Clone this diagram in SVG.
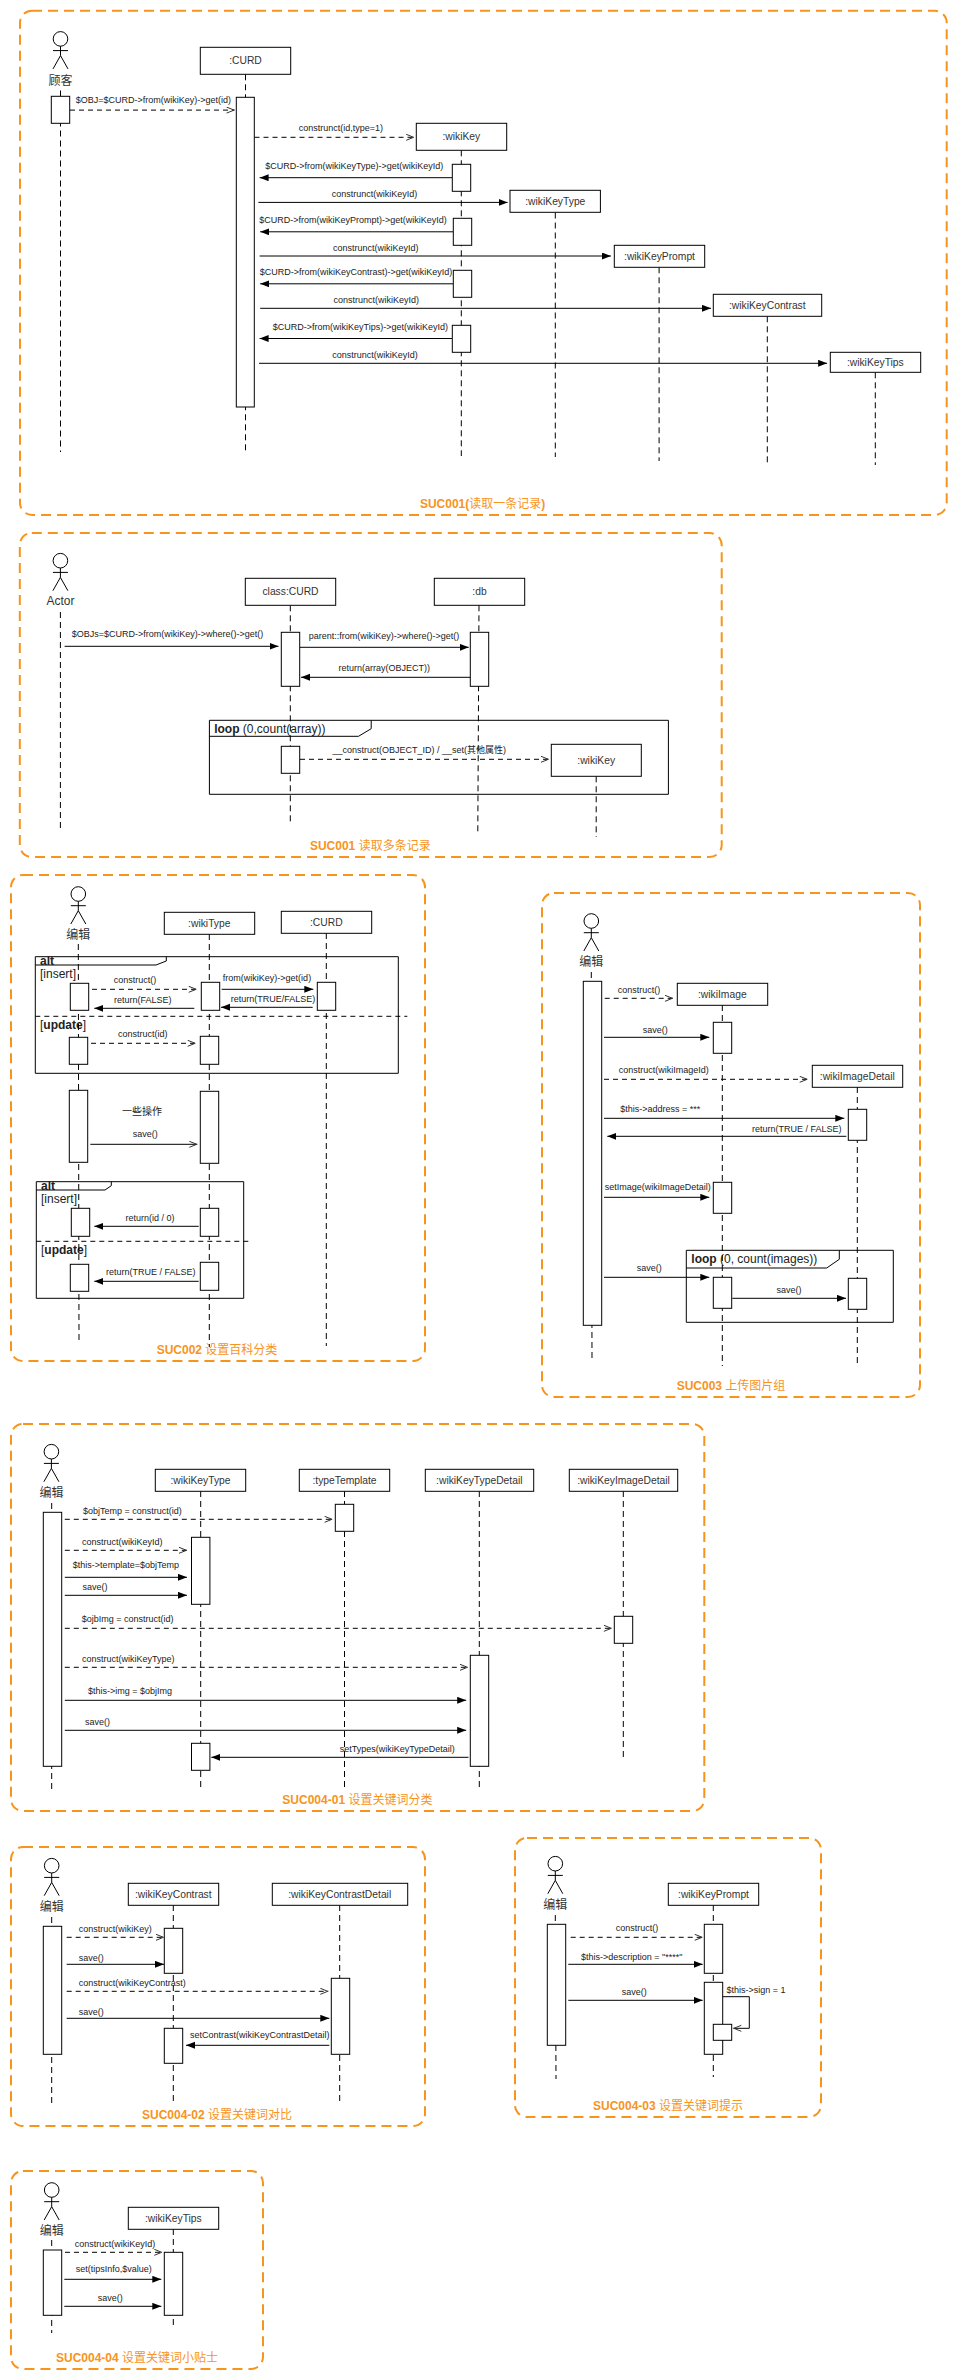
<svg xmlns="http://www.w3.org/2000/svg" xmlns:xlink="http://www.w3.org/1999/xlink" width="958" height="2380" viewBox="0 0 958 2380">
<style>
text{font-family:"Liberation Sans","Noto Sans CJK SC",sans-serif;fill:#333}
.f{fill:none;stroke:#F7941D;stroke-width:2;stroke-dasharray:10 6}
.t{font-size:12px;font-weight:bold;fill:#F7941D;text-anchor:middle}
.t tspan{font-weight:normal}
.b{fill:#fff;stroke:#000;stroke-width:1}
.ll{stroke:#000;stroke-width:1;stroke-dasharray:6 4;fill:none}
.bl{font-size:10.3px;text-anchor:middle}
.al{font-size:12px;text-anchor:middle}
.m{font-size:9px;text-anchor:middle;fill:#222}
.g{font-size:12px;fill:#222}
.g tspan.k{font-weight:bold}
.fr{fill:none;stroke:#000;stroke-width:1}
.sep{stroke:#000;stroke-width:1;stroke-dasharray:5 4;fill:none}
.a{fill:none;stroke:#000;stroke-width:1;marker-end:url(#fa)}
.d{fill:none;stroke:#000;stroke-width:1;stroke-dasharray:5 4;marker-end:url(#oa)}
.o{fill:none;stroke:#000;stroke-width:1;marker-end:url(#oa)}
.act{fill:none;stroke:#000;stroke-width:1}
</style>
<defs>
<marker id="fa" markerUnits="userSpaceOnUse" markerWidth="10" markerHeight="8" refX="9" refY="3.5" orient="auto"><path d="M0 0L9 3.5L0 7z" fill="#000"/></marker>
<marker id="oa" markerUnits="userSpaceOnUse" markerWidth="10" markerHeight="8" refX="8.5" refY="3.5" orient="auto"><path d="M.5 .5L8 3.5L.5 6.5" fill="none" stroke="#333" stroke-width="1"/></marker>
<g id="actor" class="act"><circle cx="0" cy="0" r="7.3"/><path d="M0 7.3V16.7M-7.5 11.7H7.5M-7.5 30L0 16.7L7.5 30"/></g>
</defs>
<rect width="958" height="2380" fill="#fff"/>

<g id="frames">
<g id="frame-suc001"><rect class="f" x="20" y="10.8" width="926.7" height="504.2" rx="12"/><text class="t" x="482.6" y="508">SUC001(<tspan>读取一条记录</tspan>)</text></g>
<g id="frame-suc001b"><rect class="f" x="19.8" y="533" width="701.9" height="324" rx="12"/><text class="t" x="370.3" y="850">SUC001 <tspan>读取多条记录</tspan></text></g>
<g id="frame-suc002"><rect class="f" x="11" y="875" width="414" height="486" rx="12"/><text class="t" x="217" y="1354">SUC002 <tspan>设置百科分类</tspan></text></g>
<g id="frame-suc003"><rect class="f" x="542" y="893" width="378" height="504" rx="12"/><text class="t" x="731" y="1390">SUC003 <tspan>上传图片组</tspan></text></g>
<g id="frame-suc00401"><rect class="f" x="11" y="1424" width="693.3" height="387" rx="12"/><text class="t" x="357.4" y="1804">SUC004-01 <tspan>设置关键词分类</tspan></text></g>
<g id="frame-suc00402"><rect class="f" x="11" y="1847" width="414" height="279" rx="12"/><text class="t" x="217" y="2119">SUC004-02 <tspan>设置关键词对比</tspan></text></g>
<g id="frame-suc00403"><rect class="f" x="515" y="1838" width="306" height="279" rx="12"/><text class="t" x="668" y="2110">SUC004-03 <tspan>设置关键词提示</tspan></text></g>
<g id="frame-suc00404"><rect class="f" x="11" y="2171" width="252" height="198" rx="12"/><text class="t" x="137" y="2362">SUC004-04 <tspan>设置关键词小贴士</tspan></text></g>
</g>

<!-- SUC001 -->
<g id="a1-actor"><use href="#actor" x="60.5" y="38.9"/><text class="al" x="60.5" y="84.5">顾客</text><path class="ll" d="M60.5 90.5V452"/><rect class="b" x="51.3" y="96.3" width="18.4" height="27"/></g>
<g id="a1-curd"><path class="ll" d="M245.5 74.3V452"/><rect class="b" x="200.3" y="47.3" width="90.4" height="27"/><text class="bl" x="245.5" y="64">:CURD</text><rect class="b" x="236.3" y="97.3" width="18" height="309.7"/></g>
<g id="a1-wikikey"><path class="ll" d="M461.3 150.3V456"/><rect class="b" x="416.3" y="123.3" width="90.4" height="27"/><text class="bl" x="461.3" y="140">:wikiKey</text><rect class="b" x="452.3" y="164.3" width="18.4" height="27"/><rect class="b" x="453.3" y="218.3" width="18.4" height="27"/><rect class="b" x="453.3" y="270.3" width="18.4" height="27"/><rect class="b" x="452.3" y="325.3" width="18.4" height="27"/></g>
<g id="a1-type"><path class="ll" d="M555.3 212.5V457"/><rect class="b" x="510" y="190.3" width="90.4" height="22"/><text class="bl" x="555.3" y="205">:wikiKeyType</text></g>
<g id="a1-prompt"><path class="ll" d="M659.1 267.3V461"/><rect class="b" x="614.3" y="245.3" width="90.4" height="22"/><text class="bl" x="659.5" y="260">:wikiKeyPrompt</text></g>
<g id="a1-contrast"><path class="ll" d="M767.3 316.3V465"/><rect class="b" x="713.3" y="294.3" width="108.4" height="22"/><text class="bl" x="767.3" y="309">:wikiKeyContrast</text></g>
<g id="a1-tips"><path class="ll" d="M875.3 372.3V465"/><rect class="b" x="830.3" y="352.3" width="90.4" height="20"/><text class="bl" x="875.3" y="366">:wikiKeyTips</text></g>

<!-- SUC001 b -->
<g id="b-actor"><use href="#actor" x="60.4" y="560.7"/><text class="al" x="60.4" y="605">Actor</text><path class="ll" d="M60.4 612V830"/></g>
<g id="b-loop"><path class="fr" d="M209.4 720.3H668.4V794.3H209.4zM209.4 736.3H358.5L371.2 728.7V720.3"/><text class="g" x="214.2" y="733"><tspan class="k">loop</tspan> (0,count(array))</text></g>
<g id="b-curd"><path class="ll" d="M290.3 605.3V823"/><rect class="b" x="245.3" y="578.3" width="90.4" height="27"/><text class="bl" x="290.5" y="595">class:CURD</text><rect class="b" x="281.3" y="632.3" width="18.4" height="54"/><rect class="b" x="281.3" y="746.3" width="18.4" height="27"/></g>
<g id="b-db"><path class="ll" d="M479 605.3L477.8 832"/><rect class="b" x="434.3" y="578.3" width="90.4" height="27"/><text class="bl" x="479.5" y="595">:db</text><rect class="b" x="470.3" y="632.3" width="18.4" height="54"/></g>
<g id="b-wikikey"><path class="ll" d="M596.2 776.3V837"/><rect class="b" x="551.3" y="744.3" width="90" height="32"/><text class="bl" x="596.2" y="764">:wikiKey</text></g>

<!-- SUC002 -->
<g id="c-alt1"><path class="fr" d="M35.3 956.7H398.3V1073.3H35.3zM35.3 965H156L166.3 961V956.7"/><text class="g" x="40" y="965"><tspan class="k">alt</tspan></text><text class="g" x="40" y="978">[insert]</text><path class="sep" d="M35.3 1016.3H407.3"/><text class="g" x="40" y="1029">[<tspan class="k">update</tspan>]</text></g>
<g id="c-alt2"><path class="fr" d="M36.3 1181.7H243.7V1298.3H36.3zM36.3 1190H105L111.3 1185.7V1181.7"/><text class="g" x="41" y="1190"><tspan class="k">alt</tspan></text><text class="g" x="41" y="1203">[insert]</text><path class="sep" d="M36.3 1241.3H248.3"/><text class="g" x="41" y="1254">[<tspan class="k">update</tspan>]</text></g>
<g id="c-actor"><use href="#actor" x="78.3" y="894"/><text class="al" x="78.3" y="939">编辑</text><path class="ll" d="M78.3 944L79 1341"/><rect class="b" x="70.3" y="983.3" width="18.4" height="27"/><rect class="b" x="69.3" y="1037.3" width="18.4" height="27"/><rect class="b" x="69.3" y="1090.3" width="18.4" height="72"/><rect class="b" x="71.3" y="1208.3" width="18.4" height="28"/><rect class="b" x="70.3" y="1264.3" width="18.4" height="27"/></g>
<g id="c-type"><path class="ll" d="M209.3 934V1347"/><rect class="b" x="164.3" y="912.3" width="90.4" height="22"/><text class="bl" x="209.3" y="927">:wikiType</text><rect class="b" x="201.3" y="982.3" width="18.4" height="28"/><rect class="b" x="200.3" y="1036.3" width="18.4" height="28"/><rect class="b" x="200.3" y="1091.3" width="18.4" height="72"/><rect class="b" x="200.3" y="1208.3" width="18.4" height="28"/><rect class="b" x="200.3" y="1262.3" width="18.4" height="28"/></g>
<g id="c-curd"><path class="ll" d="M326.3 933V1346"/><rect class="b" x="281.3" y="911.3" width="90.4" height="22"/><text class="bl" x="326.3" y="926">:CURD</text><rect class="b" x="317.3" y="982.3" width="18.4" height="28"/></g>

<!-- SUC003 -->
<g id="d-loop"><path class="fr" d="M686.3 1250.3H893.3V1322.3H686.3zM686.3 1268H826.7L839.3 1259.3V1250.3"/><text class="g" x="691.3" y="1263"><tspan class="k">loop</tspan> (0, count(images))</text></g>
<g id="d-actor"><use href="#actor" x="591.3" y="921"/><text class="al" x="591.3" y="966">编辑</text><path class="ll" d="M591.3 972L592 1360"/><rect class="b" x="583.3" y="981.3" width="18.4" height="344"/></g>
<g id="d-image"><path class="ll" d="M722.3 1005V1366"/><rect class="b" x="677.3" y="983.3" width="90.4" height="22"/><text class="bl" x="722.3" y="998">:wikiImage</text><rect class="b" x="713.3" y="1022.3" width="18.4" height="31"/><rect class="b" x="713.3" y="1182.3" width="18.4" height="31"/><rect class="b" x="713.3" y="1277.3" width="18.4" height="31"/></g>
<g id="d-detail"><path class="ll" d="M857.3 1087V1364"/><rect class="b" x="812.3" y="1065.3" width="90.4" height="22"/><text class="bl" x="857.3" y="1080">:wikiImageDetail</text><rect class="b" x="848.3" y="1109.3" width="18.4" height="31"/><rect class="b" x="848.3" y="1278.3" width="18.4" height="31"/></g>

<!-- SUC004-01 -->
<g id="e-actor"><use href="#actor" x="51.4" y="1451.7"/><text class="al" x="51.4" y="1497">编辑</text><path class="ll" d="M51.7 1503V1793"/><rect class="b" x="43.3" y="1512.3" width="18.4" height="254"/></g>
<g id="e-type"><path class="ll" d="M200.7 1491V1789"/><rect class="b" x="155.3" y="1469.3" width="90.4" height="22"/><text class="bl" x="200.5" y="1484">:wikiKeyType</text><rect class="b" x="191.5" y="1537.3" width="18.4" height="67"/><rect class="b" x="191.5" y="1743.3" width="18.4" height="27"/></g>
<g id="e-template"><path class="ll" d="M344.5 1491V1789"/><rect class="b" x="299.3" y="1469.3" width="90.4" height="22"/><text class="bl" x="344.5" y="1484">:typeTemplate</text><rect class="b" x="335.3" y="1504.3" width="18.4" height="27"/></g>
<g id="e-detail"><path class="ll" d="M479.3 1491V1789"/><rect class="b" x="425.3" y="1469.3" width="108.4" height="22"/><text class="bl" x="479.3" y="1484">:wikiKeyTypeDetail</text><rect class="b" x="470.3" y="1655.3" width="18.4" height="111"/></g>
<g id="e-image"><path class="ll" d="M623.3 1491V1760"/><rect class="b" x="569.3" y="1469.3" width="108.4" height="22"/><text class="bl" x="623.5" y="1484">:wikiKeyImageDetail</text><rect class="b" x="614.3" y="1616.3" width="18.4" height="27"/></g>

<!-- SUC004-02 -->
<g id="f-actor"><use href="#actor" x="51.7" y="1865.7"/><text class="al" x="51.7" y="1911">编辑</text><path class="ll" d="M51.7 1917V2105"/><rect class="b" x="43.3" y="1926.3" width="18.4" height="128"/></g>
<g id="f-contrast"><path class="ll" d="M173.3 1905V2102"/><rect class="b" x="128.3" y="1883.3" width="90.4" height="22"/><text class="bl" x="173.3" y="1898">:wikiKeyContrast</text><rect class="b" x="164.3" y="1928.3" width="18.4" height="45"/><rect class="b" x="164.3" y="2028.3" width="18.4" height="35"/></g>
<g id="f-detail"><path class="ll" d="M339.7 1905V2102"/><rect class="b" x="272.3" y="1883.3" width="135.4" height="22"/><text class="bl" x="339.7" y="1898">:wikiKeyContrastDetail</text><rect class="b" x="331.3" y="1978.3" width="18.4" height="76"/></g>

<!-- SUC004-03 -->
<g id="g-actor"><use href="#actor" x="555.3" y="1863.7"/><text class="al" x="555.3" y="1909">编辑</text><path class="ll" d="M555.3 1915L556 2079"/><rect class="b" x="547.3" y="1924.3" width="18.4" height="121"/></g>
<g id="g-prompt"><path class="ll" d="M713.3 1905V2077"/><rect class="b" x="668.3" y="1883.3" width="90.4" height="22"/><text class="bl" x="713.5" y="1898">:wikiKeyPrompt</text><rect class="b" x="704.3" y="1924.3" width="18.4" height="49"/><rect class="b" x="704.3" y="1982.3" width="18.4" height="72"/><rect class="b" x="713.3" y="2024.3" width="18.4" height="16"/></g>

<!-- SUC004-04 -->
<g id="h-actor"><use href="#actor" x="51.7" y="2190"/><text class="al" x="51.7" y="2235">编辑</text><path class="ll" d="M51.7 2240V2333"/><rect class="b" x="43.3" y="2250" width="18.4" height="65.3"/></g>
<g id="h-tips"><path class="ll" d="M173.3 2229V2329"/><rect class="b" x="128.3" y="2207.3" width="90.4" height="22"/><text class="bl" x="173.3" y="2222">:wikiKeyTips</text><rect class="b" x="164.3" y="2252.3" width="18.4" height="63"/></g>

<g id="connectors">
<path class="d" d="M70 110.1H234.6"/><text class="m" x="153.3" y="103">$OBJ=$CURD->from(wikiKey)->get(id)</text>
<path class="d" d="M254.5 137.3H414.2"/><text class="m" x="340.9" y="131">construnct(id,type=1)</text>
<path class="a" d="M452 177.7H259.6"/><text class="m" x="354.3" y="169">$CURD->from(wikiKeyType)->get(wikiKeyId)</text>
<path class="a" d="M258.4 202.4H507.6"/><text class="m" x="374.5" y="197">construnct(wikiKeyId)</text>
<path class="a" d="M453 231.8H260.2"/><text class="m" x="353" y="223">$CURD->from(wikiKeyPrompt)->get(wikiKeyId)</text>
<path class="a" d="M259.6 256H610.9"/><text class="m" x="375.7" y="251">construnct(wikiKeyId)</text>
<path class="a" d="M453 283.8H260.2"/><text class="m" x="356.1" y="275">$CURD->from(wikiKeyContrast)->get(wikiKeyId)</text>
<path class="a" d="M260.2 308.3H711"/><text class="m" x="376.3" y="303">construnct(wikiKeyId)</text>
<path class="a" d="M452 338.5H259.6"/><text class="m" x="360.4" y="330">$CURD->from(wikiKeyTips)->get(wikiKeyId)</text>
<path class="a" d="M259 363.3H827.1"/><text class="m" x="375" y="358">construnct(wikiKeyId)</text>

<path class="a" d="M64.6 646.3H278.5"/><text class="m" x="167.5" y="637">$OBJs=$CURD->from(wikiKey)->where()->get()</text>
<path class="a" d="M300 647.3H468.7"/><text class="m" x="384" y="639">parent::from(wikiKey)->where()->get()</text>
<path class="a" d="M470.3 677.3H301"/><text class="m" x="384.3" y="671">return(array(OBJECT))</text>
<path class="d" d="M300 759.3H549"/><text class="m" x="419.3" y="753">__construct(OBJECT_ID) / __set(其他属性)</text>

<path class="d" d="M92 989.3H196.7"/><text class="m" x="135" y="983">construct()</text>
<path class="a" d="M194.3 1008.3H94.3"/><text class="m" x="142.7" y="1003">return(FALSE)</text>
<path class="a" d="M221.7 989.3H313.3"/><text class="m" x="267" y="981">from(wikiKey)->get(id)</text>
<path class="a" d="M312.7 1007.3H221"/><text class="m" x="273" y="1002">return(TRUE/FALSE)</text>
<path class="d" d="M91 1043.3H195.7"/><text class="m" x="142.7" y="1037">construct(id)</text>
<text class="m" x="142" y="1115" style="font-size:10px">一些操作</text>
<path class="o" d="M90.3 1144.3H197.3"/><text class="m" x="145.3" y="1137">save()</text>
<path class="a" d="M198.7 1226.3H94.3"/><text class="m" x="150" y="1221">return(id / 0)</text>
<path class="a" d="M198.7 1281.3H94.3"/><text class="m" x="150.7" y="1275">return(TRUE / FALSE)</text>

<path class="d" d="M604.7 998.3H673"/><text class="m" x="639" y="993">construct()</text>
<path class="a" d="M604 1037.3H709.3"/><text class="m" x="655.3" y="1033">save()</text>
<path class="d" d="M604 1079.3H807.7"/><text class="m" x="663.7" y="1073">construct(wikiImageId)</text>
<path class="a" d="M604 1118.3H844.3"/><text class="m" x="660.3" y="1112">$this->address = ***</text>
<path class="a" d="M846.3 1136.3H607.3"/><text class="m" x="796.7" y="1132">return(TRUE / FALSE)</text>
<path class="a" d="M604 1197.3H709.3"/><text class="m" x="657.7" y="1190">setImage(wikiImageDetail)</text>
<path class="a" d="M604 1277.3H709.3"/><text class="m" x="649.3" y="1271">save()</text>
<path class="a" d="M732.3 1298.3H846"/><text class="m" x="789" y="1293">save()</text>

<path class="d" d="M64.8 1519.3H332.6"/><text class="m" x="132.3" y="1514">$objTemp = construct(id)</text>
<path class="d" d="M64.8 1550.3H187"/><text class="m" x="122.2" y="1545">construct(wikiKeyId)</text>
<path class="a" d="M64.8 1577.3H187"/><text class="m" x="125.9" y="1568">$this->template=$objTemp</text>
<path class="a" d="M64.8 1595.3H187"/><text class="m" x="95.1" y="1590">save()</text>
<path class="d" d="M64.8 1628.3H611.9"/><text class="m" x="127.7" y="1622">$ojbImg = construct(id)</text>
<path class="d" d="M64.8 1667.3H468"/><text class="m" x="128.2" y="1662">construct(wikiKeyType)</text>
<path class="a" d="M64.8 1700.3H466.2"/><text class="m" x="130" y="1694">$this->img = $objImg</text>
<path class="a" d="M64.8 1730.3H466.2"/><text class="m" x="97.4" y="1725">save()</text>
<path class="a" d="M468.5 1757.3H211.3"/><text class="m" x="397.3" y="1752">setTypes(wikiKeyTypeDetail)</text>

<path class="d" d="M66.7 1937.3H164"/><text class="m" x="115.3" y="1932">construct(wikiKey)</text>
<path class="a" d="M66.7 1964.3H164"/><text class="m" x="91.3" y="1961">save()</text>
<path class="d" d="M66.7 1991.3H328.3"/><text class="m" x="132.3" y="1986">construct(wikiKeyContrast)</text>
<path class="a" d="M66.7 2018.3H329.3"/><text class="m" x="91.3" y="2015">save()</text>
<path class="a" d="M329.3 2045.3H186"/><text class="m" x="259.7" y="2038">setContrast(wikiKeyContrastDetail)</text>

<path class="d" d="M570.7 1937.3H702.7"/><text class="m" x="637" y="1931">construct()</text>
<path class="a" d="M568.3 1964.3H702.7"/><text class="m" x="631.7" y="1960">$this->description = "****"</text>
<path class="a" d="M568.3 2000.3H702.7"/><text class="m" x="634.3" y="1995">save()</text>
<path class="o" d="M722.7 1996.7H749.3V2028.3H733.3"/><text class="m" x="756" y="1993">$this->sign = 1</text>

<path class="d" d="M65 2252.3H162.3"/><text class="m" x="115" y="2247">construct(wikiKeyId)</text>
<path class="a" d="M64.3 2279.3H161.3"/><text class="m" x="113.7" y="2272">set(tipsInfo,$value)</text>
<path class="a" d="M64.3 2306.3H161.3"/><text class="m" x="110.3" y="2301">save()</text>
</g>
</svg>
